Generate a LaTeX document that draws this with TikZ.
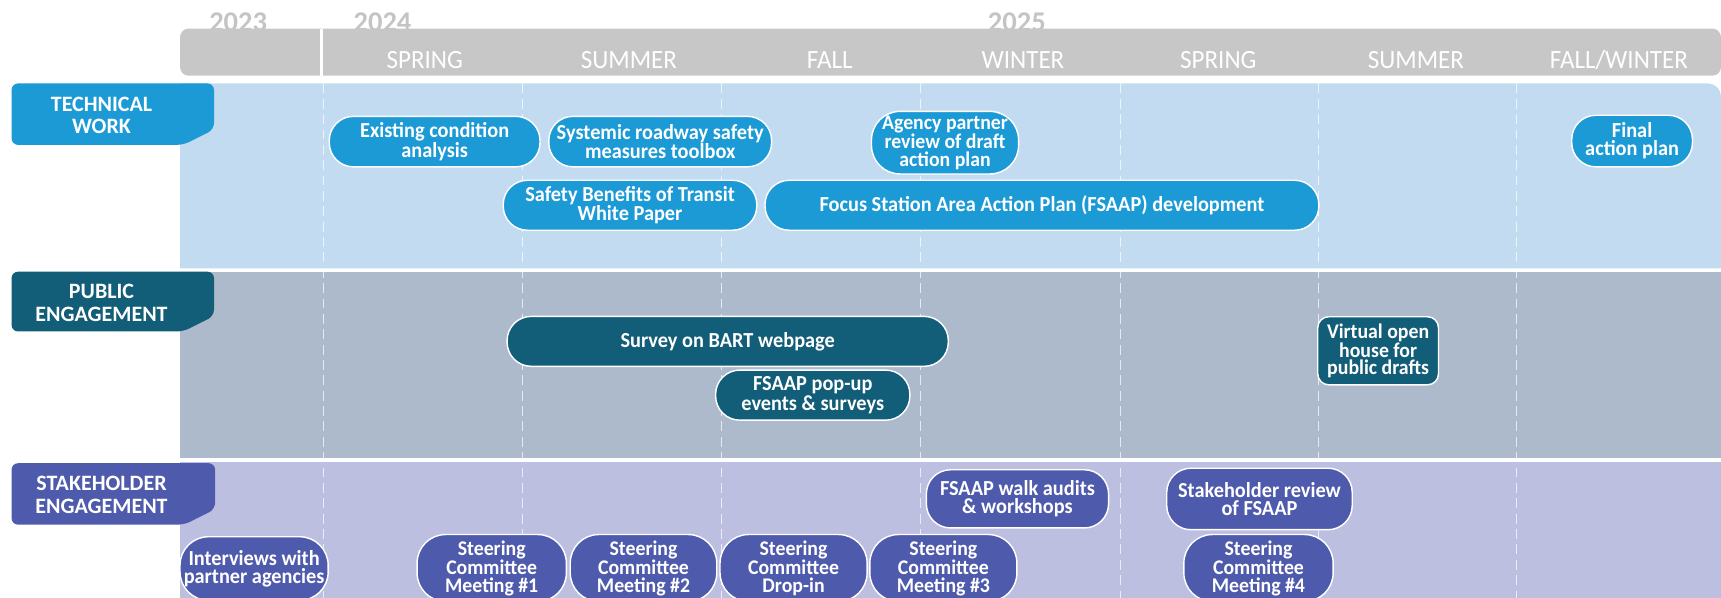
\documentclass[tikz,border=0pt]{standalone}
\usepackage{fontspec}
\setmainfont{Carlito}
\newfontfamily\cond{Carlito}[FakeStretch=0.95]
\definecolor{hdr}{HTML}{C7C7C7}
\definecolor{yearc}{HTML}{C4C4C4}
\definecolor{techband}{HTML}{C2DBF1}
\definecolor{techc}{HTML}{1C9AD6}
\definecolor{pubband}{HTML}{ADBACB}
\definecolor{pubc}{HTML}{125D77}
\definecolor{stkband}{HTML}{BDBFE1}
\definecolor{stkc}{HTML}{4E5AAB}
\tikzset{
  boxbase/.style={draw=white, line width=1.3pt, inner sep=0pt, align=center, text=white,
    font=\cond\bfseries\fontsize{19.5}{16.5}\selectfont, rounded corners=22pt},
  three/.style={font=\cond\bfseries\fontsize{19}{16.2}\selectfont},
  tbox/.style={boxbase, fill=techc},
  pbox/.style={boxbase, fill=pubc},
  sbox/.style={boxbase, fill=stkc},
  tabtext/.style={align=center, text=white, font=\bfseries\fontsize{20}{20.5}\selectfont},
  season/.style={anchor=base, text=white, font=\cond\fontsize{24}{24}\selectfont},
  yearlab/.style={anchor=base, text=yearc, font=\bfseries\fontsize{26}{26}\selectfont},
  dashline/.style={white, opacity=0.7, line width=1pt, dash pattern=on 9pt off 5pt}
}
\begin{document}
\begin{tikzpicture}[x=1pt,y=-1pt]
\useasboundingbox (0,0) rectangle (1568,544);
% year labels (behind header bar)
\node[yearlab] (y23) at (217,28.5) {2023};
\node[yearlab] (y24) at (348.5,28.5) {2024};
\node[yearlab] (y25) at (926.5,28.5) {2025};
% header bar
\fill[hdr, rounded corners=8pt] (164,26) rectangle (1568,69);
\draw[white, line width=3pt] (293,26) -- (293,69);
\node[season] (s1) at (387,62.3) {SPRING};
\node[season] (s2) at (573,62.3) {SUMMER};
\node[season] (s3) at (756,62.3) {FALL};
\node[season] (s4) at (932,62.3) {WINTER};
\node[season] (s5) at (1110,62.3) {SPRING};
\node[season] (s6) at (1290,62.3) {SUMMER};
\node[season] (s7) at (1475,62.3) {FALL/WINTER};
% bands
\fill[techband] (164,76) -- (1556,76) arc[start angle=-90,end angle=0,radius=12] -- (1568,244.5) -- (164,244.5) -- cycle;
\fill[pubband] (164,247.5) rectangle (1568,417);
\fill[stkband] (164,420.6) rectangle (1568,548);
% dashed column lines
\foreach \xx in {294.6,476,657.5,839,1021,1201,1382}
  \draw[dashline] (\xx,76) -- (\xx,548);
% tabs
\fill[techc, rounded corners=6pt] (10.5,76) -- (195,76) -- (195,118) -- (167,132) -- (10.5,132) -- cycle;
\node[tabtext] (tabT) at (92.5,105) {TECHNICAL\\WORK};
\fill[pubc, rounded corners=6pt] (10.5,247.5) -- (195,247.5) -- (195,288) -- (167,302) -- (10.5,302) -- cycle;
\node[tabtext] (tabP) at (92.5,276) {PUBLIC\\ENGAGEMENT};
\fill[stkc, rounded corners=6pt] (10.5,422) -- (196,422) -- (196,464) -- (168,478) -- (10.5,478) -- cycle;
\node[tabtext] (tabS) at (92.5,451) {STAKEHOLDER\\ENGAGEMENT};
% technical work boxes
\node[tbox, minimum width=192pt, minimum height=46pt] (exist) at (396,129) {Existing condition\\analysis};
\node[tbox, minimum width=203pt, minimum height=46pt] (sysm) at (601.5,129) {Systemic roadway safety\\measures toolbox};
\node[tbox, three, minimum width=134pt, minimum height=57pt, rounded corners=26pt] (agency) at (861,130) {Agency partner\\review of draft\\action plan};
\node[tbox, minimum width=110pt, minimum height=47pt] (final) at (1487,128.5) {Final\\action plan};
\node[tbox, minimum width=231pt, minimum height=45.5pt] (safety) at (574,187) {Safety Benefits of Transit\\White Paper};
\node[tbox, minimum width=504.6pt, minimum height=45.5pt] (focus) at (949.3,187) {Focus Station Area Action Plan (FSAAP) development};
% public engagement boxes
\node[pbox, minimum width=402pt, minimum height=45.5pt] (survey) at (663,311) {Survey on BART webpage};
\node[pbox, minimum width=177pt, minimum height=45.6pt] (popup) at (740.5,360) {FSAAP pop-up\\events \& surveys};
\node[pbox, three, minimum width=110pt, minimum height=62pt, rounded corners=10pt] (virtual) at (1255.6,319.6) {Virtual open\\house for\\public drafts};
% stakeholder engagement boxes
\node[sbox, minimum width=166pt, minimum height=53pt, rounded corners=22pt] (walk) at (927,454.5) {FSAAP walk audits\\\& workshops};
\node[sbox, minimum width=169pt, minimum height=56pt, rounded corners=22pt] (review) at (1147.5,454.6) {Stakeholder review\\of FSAAP};
\node[sbox, minimum width=135pt, minimum height=58pt, rounded corners=26pt] (interv) at (231.5,518) {Interviews with\\partner agencies};
\node[sbox, three, minimum width=136pt, minimum height=61pt, rounded corners=26pt] (sc1) at (448,517.5) {Steering\\Committee\\Meeting \#1};
\node[sbox, three, minimum width=133.5pt, minimum height=61pt, rounded corners=26pt] (sc2) at (586.3,517.5) {Steering\\Committee\\Meeting \#2};
\node[sbox, three, minimum width=134pt, minimum height=61pt, rounded corners=26pt] (scd) at (723,517.5) {Steering\\Committee\\Drop-in};
\node[sbox, three, minimum width=134pt, minimum height=61pt, rounded corners=26pt] (sc3) at (859.5,517.5) {Steering\\Committee\\Meeting \#3};
\node[sbox, three, minimum width=136pt, minimum height=61pt, rounded corners=26pt] (sc4) at (1146.6,517.5) {Steering\\Committee\\Meeting \#4};
\end{tikzpicture}
\end{document}
